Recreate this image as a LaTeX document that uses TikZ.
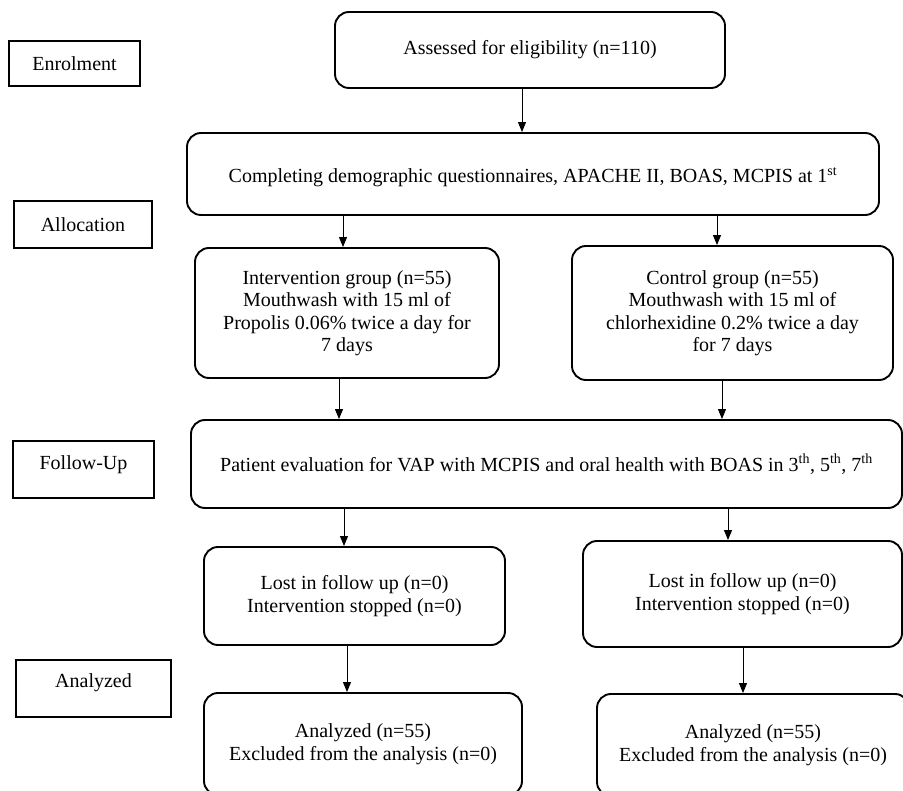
\documentclass[tikz,border=0pt]{standalone}
\usepackage{fontspec}
\setmainfont{Liberation Serif}
\usetikzlibrary{arrows.meta}
\begin{document}
\begin{tikzpicture}[x=1pt,y=-1pt,
  txt/.style={font=\fontsize{20}{22.5}\selectfont},
  box/.style={txt, draw, line width=1.9pt, rounded corners=14pt, inner sep=0pt, align=center},
  lab/.style={txt, draw, line width=1.9pt, inner sep=0pt},
  arr/.style={line width=0.9pt, -{Triangle[length=10pt,width=8pt]}}]
\useasboundingbox (0,0) rectangle (903,791);
\clip (0,0) rectangle (903,791);

% stage labels
\node[lab, minimum width=131pt, minimum height=45pt] (enrol) at (74.5,63.5) {Enrolment};
\node[lab, minimum width=138pt, minimum height=47pt] (alloc) at (83,224.5) {Allocation};
\node[lab, minimum width=141pt, minimum height=57pt, text depth=13pt] (follow) at (83.5,469.5) {Follow-Up};
\node[lab, minimum width=155pt, minimum height=57pt, text depth=15pt] (anal) at (93.5,688.5) {Analyzed};

% flow boxes
\node[box, minimum width=390pt, minimum height=76pt] (assess) at (530,50) {Assessed for eligibility (n=110)};
\node[box, minimum width=692pt, minimum height=82pt, text height=22pt] (complete) at (533,174)
  {Completing demographic questionnaires, APACHE II, BOAS, MCPIS at 1\textsuperscript{st}};
\node[box, minimum width=304pt, minimum height=130pt] (interv) at (347,313)
  {Intervention group (n=55)\\Mouthwash with 15 ml of\\Propolis 0.06\% twice a day for\\7 days};
\node[box, minimum width=321pt, minimum height=134pt] (control) at (732.5,313)
  {Control group (n=55)\\Mouthwash with 15 ml of\\chlorhexidine 0.2\% twice a day\\for 7 days};
\node[box, minimum width=711pt, minimum height=88pt] (patient) at (546.5,464)
  {Patient evaluation for VAP with MCPIS and oral health with BOAS in 3\textsuperscript{th}, 5\textsuperscript{th}, 7\textsuperscript{th}};
\node[box, minimum width=301pt, minimum height=98pt] (lostL) at (354.5,596)
  {Lost in follow up (n=0)\\Intervention stopped (n=0)};
\node[box, minimum width=319pt, minimum height=106pt] (lostR) at (742.5,594)
  {Lost in follow up (n=0)\\Intervention stopped (n=0)};
\node[box, minimum width=318pt, minimum height=102pt] (anaL) at (363,744)
  {Analyzed (n=55)\\Excluded from the analysis (n=0)};
\node[box, minimum width=312pt, minimum height=102pt] (anaR) at (753,745)
  {Analyzed (n=55)\\Excluded from the analysis (n=0)};

% connectors
\draw[arr] (assess.south -| 522,0) -- (complete.north -| 522,0);
\draw[arr] (complete.south -| 343,0) -- (interv.north -| 343,0);
\draw[arr] (complete.south -| 717,0) -- (control.north -| 717,0);
\draw[arr] (interv.south -| 339,0) -- (patient.north -| 339,0);
\draw[arr] (control.south -| 722,0) -- (patient.north -| 722,0);
\draw[arr] (patient.south -| 344,0) -- (lostL.north -| 344,0);
\draw[arr] (patient.south -| 728,0) -- (lostR.north -| 728,0);
\draw[arr] (lostL.south -| 347,0) -- (anaL.north -| 347,0);
\draw[arr] (lostR.south -| 743,0) -- (anaR.north -| 743,0);
\end{tikzpicture}
\end{document}
